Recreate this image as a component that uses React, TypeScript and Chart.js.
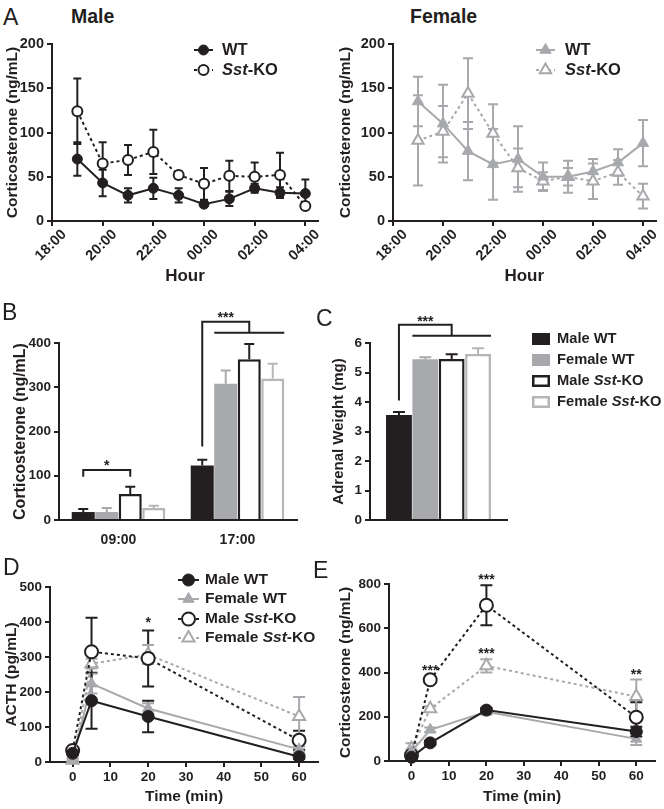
import React, { useEffect, useRef } from 'react';
import { Chart, registerables } from 'chart.js';
import { drawPoint } from 'chart.js/helpers';

Chart.register(...registerables);

const FONT = '"Liberation Sans", Arial, Helvetica, sans-serif';
const BLACK = '#231f20';
const GRAY = '#a7a9ac';
const LGRAY = '#b4b6b8';

// ---------------- Panel A (hours after 18:00) ----------------
const hourTickPos = [0, 2, 4, 6, 8, 10];
const hourTickLabels = ['18:00', '20:00', '22:00', '00:00', '02:00', '04:00'];
const sampleHours = [1, 2, 3, 4, 5, 6, 7, 8, 9, 10];
const maleWT = [70, 43, 29, 37, 29, 19, 25, 37, 32, 31];
const maleWTErr = [19, 15, 8, 12, 8, 3, 8, 5, 6, 16];
const maleKO = [124, 65, 69, 78, 52, 42, 51, 50, 52, 17];
const maleKOErr = [37, 24, 17, 25, 4, 18, 17, 16, 25, 3];
const femaleWT = [135, 110, 79, 64, 70, 50, 50, 56, 66, 88];
const femaleWTErr = [28, 44, 33, 40, 37, 16, 18, 14, 15, 26];
const femaleKO = [91, 101, 144, 99, 60, 45, 50, 45, 55, 28];
const femaleKOErr = [51, 29, 40, 33, 22, 10, 10, 20, 14, 14];

// ---------------- Panel B ----------------
const bTimes = ['09:00', '17:00'];
const bMaleWT = [18, 123];
const bMaleWTErr = [7, 13];
const bFemaleWT = [18, 308];
const bFemaleWTErr = [9, 30];
const bMaleKO = [59, 363];
const bMaleKOErr = [16, 35];
const bFemaleKO = [27, 320];
const bFemaleKOErr = [5, 33];

// ---------------- Panel C ----------------
const cGroups = [''];
const cMaleWT = [3.56];
const cMaleWTErr = [0.1];
const cFemaleWT = [5.45];
const cFemaleWTErr = [0.07];
const cMaleKO = [5.46];
const cMaleKOErr = [0.16];
const cFemaleKO = [5.63];
const cFemaleKOErr = [0.19];

// ---------------- Panels D / E ----------------
const timeMin = [0, 5, 20, 60];
const timeTicks = [0, 10, 20, 30, 40, 50, 60];
const dMaleWT = [25, 175, 130, 15];
const dMaleWTErr = [5, 80, 45, 6];
const dFemaleWT = [8, 224, 153, 36];
const dFemaleWTErr = [4, 28, 15, 8];
const dMaleKO = [33, 315, 296, 62];
const dMaleKOErr = [6, 97, 80, 27];
const dFemaleKO = [5, 281, 307, 130];
const dFemaleKOErr = [4, 14, 27, 56];
const eMaleWT = [17, 82, 230, 133];
const eMaleWTErr = [8, 10, 10, 22];
const eFemaleWT = [42, 141, 222, 100];
const eFemaleWTErr = [10, 10, 10, 28];
const eMaleKO = [25, 367, 704, 198];
const eMaleKOErr = [8, 10, 90, 68];
const eFemaleKO = [55, 236, 430, 291];
const eFemaleKOErr = [25, 12, 30, 77];

// significance marks (data space)
const dStars = [{ x: 20, y: 408, t: '*' }];
const eStars = [
  { x: 5, y: 427, t: '***' },
  { x: 20, y: 836, t: '***' },
  { x: 20, y: 500, t: '***' },
  { x: 60, y: 405, t: '**' },
];
const bBracketAM = { level: 113, legBottom: 98, star: 131, text: '*' };
const bBracketPM = { legBottom: 166, top: 448, lower: 423, star: 466, text: '***' };
const cBracket = { legBottom: 4.05, top: 6.62, lower: 6.25, star: 6.85, text: '***' };

type Part = { t: string; i?: boolean };
const legendA: Part[][] = [[{ t: 'WT' }], [{ t: 'Sst', i: true }, { t: '-KO' }]];
const legendGroups: Part[][] = [
  [{ t: 'Male WT' }],
  [{ t: 'Female WT' }],
  [{ t: 'Male ' }, { t: 'Sst', i: true }, { t: '-KO' }],
  [{ t: 'Female ' }, { t: 'Sst', i: true }, { t: '-KO' }],
];

Chart.defaults.font.family = FONT;
Chart.defaults.color = BLACK;

type Rect = { x: number; y: number; w: number; h: number };
type Area = { l: number; t: number; r: number; b: number };

function layoutFor(rect: Rect, area: Area) {
  return {
    padding: { left: 0, top: area.t - rect.y, right: rect.x + rect.w - area.r, bottom: 0 },
    yWidth: area.l - rect.x,
    xHeight: rect.y + rect.h - area.b,
  };
}

function drawParts(ctx: CanvasRenderingContext2D, x: number, y: number, parts: Part[], size: number, color: string) {
  ctx.save();
  ctx.fillStyle = color;
  ctx.textBaseline = 'middle';
  ctx.textAlign = 'left';
  let cx = x;
  for (const p of parts) {
    ctx.font = `${p.i ? 'italic ' : ''}bold ${size}px ${FONT}`;
    ctx.fillText(p.t, cx, y);
    cx += ctx.measureText(p.t).width;
  }
  ctx.restore();
}

function drawStar(ctx: CanvasRenderingContext2D, x: number, y: number, t: string, size: number) {
  ctx.save();
  ctx.fillStyle = BLACK;
  ctx.font = `bold ${size}px ${FONT}`;
  ctx.textAlign = 'center';
  ctx.textBaseline = 'alphabetic';
  ctx.fillText(t, x, y + 0.57 * size);
  ctx.restore();
}

function makeErrorBars(mode: 'both' | 'up', capHalf: number, when: 'before' | 'after') {
  const draw = (chart: any) => {
    const ctx = chart.ctx as CanvasRenderingContext2D;
    chart.data.datasets.forEach((ds: any, i: number) => {
      const errs: number[] = ds.errors;
      if (!errs) return;
      const meta = chart.getDatasetMeta(i);
      const ys = chart.scales[meta.yAxisID];
      ctx.save();
      ctx.strokeStyle = ds.errorColor;
      ctx.lineWidth = 2;
      ctx.setLineDash([]);
      meta.data.forEach((el: any, j: number) => {
        const raw = ds.data[j];
        const v = typeof raw === 'number' ? raw : raw.y;
        const e = errs[j];
        const top = ys.getPixelForValue(v + e);
        const bot = mode === 'both' ? ys.getPixelForValue(Math.max(v - e, 0)) : ys.getPixelForValue(v);
        ctx.beginPath();
        ctx.moveTo(el.x, top);
        ctx.lineTo(el.x, bot);
        ctx.moveTo(el.x - capHalf, top);
        ctx.lineTo(el.x + capHalf, top);
        if (mode === 'both') {
          ctx.moveTo(el.x - capHalf, bot);
          ctx.lineTo(el.x + capHalf, bot);
        }
        ctx.stroke();
      });
      ctx.restore();
    });
  };
  return when === 'before'
    ? { id: 'errorBars', beforeDatasetsDraw: draw }
    : { id: 'errorBars', afterDatasetsDraw: draw };
}

function makeLineLegend(labels: Part[][], x0: number, x1: number, tx: number, ys: number[], size: number) {
  return {
    id: 'lineLegend',
    afterDraw(chart: any) {
      const ctx = chart.ctx as CanvasRenderingContext2D;
      labels.forEach((parts, k) => {
        const ds = chart.data.datasets[k];
        const y = ys[k];
        ctx.save();
        ctx.strokeStyle = ds.borderColor;
        ctx.lineWidth = ds.borderWidth;
        ctx.setLineDash(ds.borderDash || []);
        ctx.beginPath();
        ctx.moveTo(x0, y);
        ctx.lineTo(x1, y);
        ctx.stroke();
        ctx.setLineDash([]);
        ctx.fillStyle = ds.pointBackgroundColor;
        ctx.strokeStyle = ds.pointBorderColor;
        ctx.lineWidth = ds.pointBorderWidth;
        drawPoint(ctx, { pointStyle: ds.pointStyle, radius: ds.pointRadius, borderWidth: ds.pointBorderWidth, rotation: 0 } as any, (x0 + x1) / 2, y);
        ctx.restore();
        drawParts(ctx, tx, y, parts, size, BLACK);
      });
    },
  };
}

function makeStars(items: { x: number; y: number; t: string }[], size: number) {
  return {
    id: 'stars',
    afterDraw(chart: any) {
      const ctx = chart.ctx;
      items.forEach((s) => {
        drawStar(ctx, chart.scales.x.getPixelForValue(s.x), chart.scales.y.getPixelForValue(s.y), s.t, size);
      });
    },
  };
}

function yScale(o: { min: number; max: number; step: number; width: number; title: string; tick: number; titleSize: number; titlePad: number }) {
  return {
    type: 'linear',
    min: o.min,
    max: o.max,
    ticks: { stepSize: o.step, font: { size: o.tick, weight: 'bold', family: FONT }, color: BLACK, padding: 3 },
    grid: { drawOnChartArea: false, drawTicks: true, tickLength: 5, color: BLACK, lineWidth: 2 },
    border: { display: true, color: BLACK, width: 2 },
    title: { display: true, text: o.title, color: BLACK, font: { size: o.titleSize, weight: 'bold', family: FONT }, padding: { top: o.titlePad, bottom: 0 } },
    afterFit: (s: any) => {
      s.width = o.width;
    },
  };
}

function xLinear(o: {
  min: number; max: number; ticksAt: number[]; labels?: string[]; height: number; title: string;
  tick: number; titleSize: number; titlePad: number; rotation: number; labelOffset: number; tickPad: number;
}) {
  return {
    type: 'linear',
    min: o.min,
    max: o.max,
    afterBuildTicks: (s: any) => {
      s.ticks = o.ticksAt.map((v) => ({ value: v }));
    },
    ticks: {
      autoSkip: false,
      minRotation: o.rotation,
      maxRotation: o.rotation,
      labelOffset: o.labelOffset,
      padding: o.tickPad,
      font: { size: o.tick, weight: 'bold', family: FONT },
      color: BLACK,
      callback: (v: number) => (o.labels ? o.labels[o.ticksAt.indexOf(v)] : String(v)),
    },
    grid: { drawOnChartArea: false, drawTicks: true, tickLength: 5, color: BLACK, lineWidth: 2 },
    border: { display: true, color: BLACK, width: 2 },
    title: { display: true, text: o.title, color: BLACK, font: { size: o.titleSize, weight: 'bold', family: FONT }, padding: { top: 0, bottom: o.titlePad } },
    afterFit: (s: any) => {
      s.height = o.height;
    },
  };
}

function lineDs(label: string, xs: number[], ys: number[], errs: number[], kind: string, r: number) {
  const isMale = kind[0] === 'm';
  const isKO = kind.endsWith('ko');
  const col = isMale ? BLACK : GRAY;
  return {
    label,
    data: xs.map((x, i) => ({ x, y: ys[i] })),
    errors: errs,
    errorColor: col,
    borderColor: col,
    borderWidth: 2,
    borderDash: isKO ? [3, 3] : [],
    pointStyle: isMale ? 'circle' : 'triangle',
    pointRadius: r,
    pointHoverRadius: r,
    pointBackgroundColor: isKO ? '#ffffff' : col,
    pointBorderColor: col,
    pointBorderWidth: isKO ? 2 : 1,
    clip: false,
    tension: 0,
    fill: false,
  };
}

function barDs(label: string, values: number[], errs: number[], kind: string) {
  const styles: any = {
    mwt: { bg: BLACK, bc: BLACK, bw: 0, ec: BLACK },
    fwt: { bg: GRAY, bc: GRAY, bw: 0, ec: GRAY },
    mko: { bg: '#ffffff', bc: BLACK, bw: 2.5, ec: BLACK },
    fko: { bg: '#ffffff', bc: LGRAY, bw: 2.5, ec: LGRAY },
  };
  const s = styles[kind];
  return { label, data: values, errors: errs, errorColor: s.ec, backgroundColor: s.bg, borderColor: s.bc, borderWidth: s.bw };
}

const baseOptions = (padding: any) => ({
  responsive: false,
  maintainAspectRatio: false,
  animation: false,
  events: [],
  layout: { padding },
  plugins: { legend: { display: false }, tooltip: { enabled: false } },
});

// ---------------- layout rectangles (page px) ----------------
const RECT_AM: Rect = { x: 0, y: 30, w: 332, h: 262 };
const AREA_AM: Area = { l: 52, t: 44, r: 318, b: 221 };
const RECT_AF: Rect = { x: 332, y: 30, w: 332, h: 262 };
const AREA_AF: Area = { l: 393, t: 44, r: 657, b: 221 };
const RECT_B: Rect = { x: 0, y: 300, w: 310, h: 250 };
const AREA_B: Area = { l: 59, t: 343, r: 297, b: 520 };
const RECT_C: Rect = { x: 330, y: 300, w: 334, h: 250 };
const AREA_C: Area = { l: 370, t: 343, r: 507, b: 520 };
const RECT_D: Rect = { x: 0, y: 560, w: 332, h: 249 };
const AREA_D: Area = { l: 50, t: 587, r: 318, b: 762 };
const RECT_E: Rect = { x: 332, y: 560, w: 332, h: 249 };
const AREA_E: Area = { l: 389, t: 584, r: 657, b: 761 };

function buildA(female: boolean) {
  const rect = female ? RECT_AF : RECT_AM;
  const L = layoutFor(rect, female ? AREA_AF : AREA_AM);
  const datasets = female
    ? [
        lineDs('WT', sampleHours, femaleWT, femaleWTErr, 'fwt', 6.5),
        lineDs('Sst-KO', sampleHours, femaleKO, femaleKOErr, 'fko', 6.5),
      ]
    : [
        lineDs('WT', sampleHours, maleWT, maleWTErr, 'mwt', 5),
        lineDs('Sst-KO', sampleHours, maleKO, maleKOErr, 'mko', 5),
      ];
  const lx0 = (female ? 536 : 194) - rect.x;
  const lx1 = (female ? 555 : 213) - rect.x;
  const tx = (female ? 565 : 222) - rect.x;
  return {
    type: 'line',
    data: { datasets },
    options: {
      ...baseOptions(L.padding),
      scales: {
        x: xLinear({
          min: 0, max: 10.5, ticksAt: hourTickPos, labels: hourTickLabels, height: L.xHeight, title: 'Hour',
          tick: 14.5, titleSize: 17, titlePad: 5, rotation: 45, labelOffset: 12, tickPad: 0,
        }),
        y: yScale({ min: 0, max: 200, step: 50, width: L.yWidth, title: 'Corticosterone (ng/mL)', tick: 14.5, titleSize: 15.5, titlePad: female ? 4 : 3 }),
      },
    },
    plugins: [makeErrorBars('both', female ? 5 : 4, 'before'), makeLineLegend(legendA, lx0, lx1, tx, [50 - rect.y, 70 - rect.y], 16.5)],
  };
}

function buildB() {
  const rect = RECT_B;
  const L = layoutFor(rect, AREA_B);
  const bracket = {
    id: 'brackets',
    afterDraw(chart: any) {
      const ctx = chart.ctx as CanvasRenderingContext2D;
      const Y = (v: number) => chart.scales.y.getPixelForValue(v);
      const m0 = chart.getDatasetMeta(0).data;
      const m1 = chart.getDatasetMeta(1).data;
      const m2 = chart.getDatasetMeta(2).data;
      const m3 = chart.getDatasetMeta(3).data;
      ctx.save();
      ctx.strokeStyle = BLACK;
      ctx.lineWidth = 2;
      // morning
      const xa = m0[0].x, xb = m2[0].x;
      ctx.beginPath();
      ctx.moveTo(xa, Y(bBracketAM.legBottom));
      ctx.lineTo(xa, Y(bBracketAM.level));
      ctx.lineTo(xb, Y(bBracketAM.level));
      ctx.lineTo(xb, Y(bBracketAM.legBottom));
      ctx.stroke();
      // evening
      const x0 = m0[1].x;
      const xl = m1[1].x - m1[1].width / 2;
      const xr = m3[1].x + m3[1].width / 2;
      const xm = (xl + xr) / 2;
      ctx.beginPath();
      ctx.moveTo(x0, Y(bBracketPM.legBottom));
      ctx.lineTo(x0, Y(bBracketPM.top));
      ctx.lineTo(xm, Y(bBracketPM.top));
      ctx.lineTo(xm, Y(bBracketPM.lower));
      ctx.moveTo(xl, Y(bBracketPM.lower));
      ctx.lineTo(xr, Y(bBracketPM.lower));
      ctx.stroke();
      ctx.restore();
      drawStar(ctx, (xa + xb) / 2, Y(bBracketAM.star), bBracketAM.text, 14);
      drawStar(ctx, (x0 + xm) / 2, Y(bBracketPM.star), bBracketPM.text, 14);
    },
  };
  return {
    type: 'bar',
    data: {
      labels: bTimes,
      datasets: [
        barDs('Male WT', bMaleWT, bMaleWTErr, 'mwt'),
        barDs('Female WT', bFemaleWT, bFemaleWTErr, 'fwt'),
        barDs('Male Sst-KO', bMaleKO, bMaleKOErr, 'mko'),
        barDs('Female Sst-KO', bFemaleKO, bFemaleKOErr, 'fko'),
      ],
    },
    options: {
      ...baseOptions(L.padding),
      datasets: { bar: { categoryPercentage: 0.79, barPercentage: 0.98 } },
      scales: {
        x: {
          type: 'category',
          grid: { display: false },
          border: { display: true, color: BLACK, width: 2 },
          ticks: { font: { size: 14, weight: 'bold', family: FONT }, color: BLACK, padding: 4 },
          afterFit: (s: any) => {
            s.height = L.xHeight;
          },
        },
        y: yScale({ min: 0, max: 400, step: 100, width: L.yWidth, title: 'Corticosterone (ng/mL)', tick: 13.5, titleSize: 16, titlePad: 11 }),
      },
    },
    plugins: [makeErrorBars('up', 5, 'after'), bracket],
  };
}

function buildC() {
  const rect = RECT_C;
  const L = layoutFor(rect, AREA_C);
  const extras = {
    id: 'cExtras',
    afterDraw(chart: any) {
      const ctx = chart.ctx as CanvasRenderingContext2D;
      const Y = (v: number) => chart.scales.y.getPixelForValue(v);
      const m0 = chart.getDatasetMeta(0).data;
      const m1 = chart.getDatasetMeta(1).data;
      const m3 = chart.getDatasetMeta(3).data;
      const x0 = m0[0].x;
      const xl = m1[0].x - m1[0].width / 2;
      const xr = m3[0].x + m3[0].width / 2;
      const xm = (xl + xr) / 2;
      ctx.save();
      ctx.strokeStyle = BLACK;
      ctx.lineWidth = 2;
      ctx.beginPath();
      ctx.moveTo(x0, Y(cBracket.legBottom));
      ctx.lineTo(x0, Y(cBracket.top));
      ctx.lineTo(xm, Y(cBracket.top));
      ctx.lineTo(xm, Y(cBracket.lower));
      ctx.moveTo(xl, Y(cBracket.lower));
      ctx.lineTo(xr, Y(cBracket.lower));
      ctx.stroke();
      ctx.restore();
      drawStar(ctx, (x0 + xm) / 2, Y(cBracket.star), cBracket.text, 14);
      // legend
      const bx = 532 - rect.x;
      const rows = [339, 360, 381, 402];
      chart.data.datasets.forEach((ds: any, k: number) => {
        const cy = rows[k] - rect.y;
        ctx.save();
        ctx.fillStyle = ds.backgroundColor;
        ctx.fillRect(bx, cy - 6, 18, 12);
        if (ds.borderWidth > 0) {
          ctx.strokeStyle = ds.borderColor;
          ctx.lineWidth = 2.5;
          ctx.strokeRect(bx + 1.25, cy - 6 + 1.25, 18 - 2.5, 12 - 2.5);
        }
        ctx.restore();
        drawParts(ctx, 557 - rect.x, cy, legendGroups[k], 14.7, BLACK);
      });
    },
  };
  return {
    type: 'bar',
    data: {
      labels: cGroups,
      datasets: [
        barDs('Male WT', cMaleWT, cMaleWTErr, 'mwt'),
        barDs('Female WT', cFemaleWT, cFemaleWTErr, 'fwt'),
        barDs('Male Sst-KO', cMaleKO, cMaleKOErr, 'mko'),
        barDs('Female Sst-KO', cFemaleKO, cFemaleKOErr, 'fko'),
      ],
    },
    options: {
      ...baseOptions(L.padding),
      datasets: { bar: { categoryPercentage: 0.77, barPercentage: 0.98 } },
      scales: {
        x: {
          type: 'category',
          grid: { display: false },
          border: { display: true, color: BLACK, width: 2 },
          ticks: { display: false },
          afterFit: (s: any) => {
            s.height = L.xHeight;
          },
        },
        y: yScale({ min: 0, max: 6, step: 1, width: L.yWidth, title: 'Adrenal Weight (mg)', tick: 13.5, titleSize: 15, titlePad: 0 }),
      },
    },
    plugins: [makeErrorBars('up', 6, 'after'), extras],
  };
}

function buildDE(which: 'D' | 'E') {
  const isD = which === 'D';
  const rect = isD ? RECT_D : RECT_E;
  const L = layoutFor(rect, isD ? AREA_D : AREA_E);
  const src = isD
    ? [dMaleWT, dMaleWTErr, dFemaleWT, dFemaleWTErr, dMaleKO, dMaleKOErr, dFemaleKO, dFemaleKOErr]
    : [eMaleWT, eMaleWTErr, eFemaleWT, eFemaleWTErr, eMaleKO, eMaleKOErr, eFemaleKO, eFemaleKOErr];
  const datasets = [
    lineDs('Male WT', timeMin, src[0], src[1], 'mwt', 6),
    lineDs('Female WT', timeMin, src[2], src[3], 'fwt', 6.5),
    lineDs('Male Sst-KO', timeMin, src[4], src[5], 'mko', 6.5),
    lineDs('Female Sst-KO', timeMin, src[6], src[7], 'fko', 7),
  ];
  const plugins: any[] = [makeErrorBars('both', 6, 'before'), makeStars(isD ? dStars : eStars, 14)];
  if (isD) {
    plugins.push(makeLineLegend(legendGroups, 178 - rect.x, 199 - rect.x, 205 - rect.x, [580 - rect.y, 599 - rect.y, 619 - rect.y, 638 - rect.y], 15.5));
  }
  return {
    type: 'line',
    data: { datasets },
    options: {
      ...baseOptions(L.padding),
      scales: {
        x: xLinear({
          min: -6, max: 65, ticksAt: timeTicks, height: L.xHeight, title: 'Time (min)',
          tick: 13.5, titleSize: 15.5, titlePad: 3, rotation: 0, labelOffset: 0, tickPad: 2,
        }),
        y: isD
          ? yScale({ min: 0, max: 500, step: 100, width: L.yWidth, title: 'ACTH (pg/mL)', tick: 13.5, titleSize: 15.5, titlePad: 2 })
          : yScale({ min: 0, max: 800, step: 200, width: L.yWidth, title: 'Corticosterone (ng/mL)', tick: 13.5, titleSize: 15.5, titlePad: 4 }),
      },
    },
    plugins,
  };
}

function ChartBox({ rect, make }: { rect: Rect; make: () => any }) {
  const ref = useRef<HTMLCanvasElement>(null);
  useEffect(() => {
    const chart = new Chart(ref.current as HTMLCanvasElement, make());
    return () => chart.destroy();
  }, []);
  return (
    <div style={{ position: 'absolute', left: rect.x, top: rect.y, width: rect.w, height: rect.h }}>
      <canvas ref={ref} width={rect.w} height={rect.h} style={{ width: rect.w, height: rect.h, display: 'block' }} />
    </div>
  );
}

function Label({ x, cy, size, text, bold }: { x: number; cy: number; size: number; text: string; bold?: boolean }) {
  return (
    <div
      style={{
        position: 'absolute',
        left: x,
        top: cy - 0.49 * size,
        fontFamily: FONT,
        fontSize: size,
        lineHeight: 1,
        fontWeight: bold ? 'bold' : 'normal',
        color: BLACK,
        whiteSpace: 'nowrap',
      }}
    >
      {text}
    </div>
  );
}

export default function App() {
  return (
    <div style={{ position: 'absolute', left: 0, top: 0, width: 664, height: 809, background: '#ffffff', overflow: 'hidden' }}>
      <ChartBox rect={RECT_AM} make={() => buildA(false)} />
      <ChartBox rect={RECT_AF} make={() => buildA(true)} />
      <ChartBox rect={RECT_B} make={buildB} />
      <ChartBox rect={RECT_C} make={buildC} />
      <ChartBox rect={RECT_D} make={() => buildDE('D')} />
      <ChartBox rect={RECT_E} make={() => buildDE('E')} />
      <Label x={3} cy={17} size={23} text="A" />
      <Label x={71} cy={17} size={19.5} text="Male" bold />
      <Label x={410} cy={17} size={19.5} text="Female" bold />
      <Label x={2} cy={312} size={23} text="B" />
      <Label x={316} cy={318} size={23} text="C" />
      <Label x={3} cy={567} size={23} text="D" />
      <Label x={313} cy={570} size={23} text="E" />
    </div>
  );
}
